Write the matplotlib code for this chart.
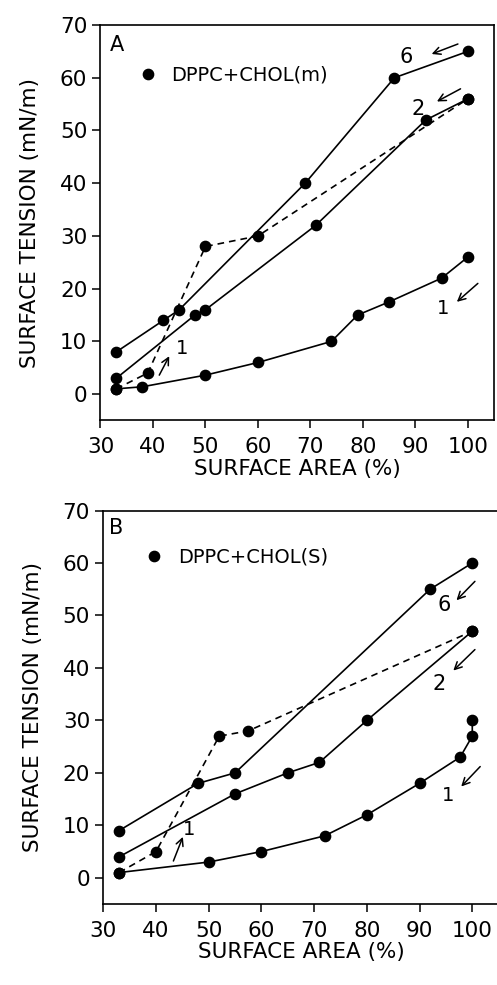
import matplotlib
matplotlib.use('Agg')
import matplotlib.pyplot as plt
from matplotlib.lines import Line2D

plt.rcParams['font.family'] = ['DejaVu Sans']

# Panel A : DPPC+CHOL(m)
a_c1_x = [100, 95, 85, 79, 74, 60, 50, 38, 33]
a_c1_y = [26, 22, 17.5, 15, 10, 6, 3.6, 1.4, 1]
a_exp_x = [33, 39, 50, 60, 100]
a_exp_y = [1, 4, 28, 30, 56]
a_c2_x = [100, 92, 71, 50, 48, 33]
a_c2_y = [56, 52, 32, 16, 15, 3]
a_c6_x = [100, 86, 69, 45, 42, 33]
a_c6_y = [65, 60, 40, 16, 14, 8]

# Panel B : DPPC+CHOL(S)
b_c1_x = [100, 100, 97.7, 90, 80, 72, 60, 50, 33]
b_c1_y = [30, 27, 23, 18, 12, 8, 5, 3, 1]
b_exp_x = [33, 40, 52, 57.5, 100]
b_exp_y = [1, 5, 27, 28, 47]
b_c2_x = [100, 80, 71, 65, 55, 33]
b_c2_y = [47, 30, 22, 20, 16, 4]
b_c6_x = [100, 92, 55, 48, 33]
b_c6_y = [60, 55, 20, 18, 9]

x_ticks = [30, 40, 50, 60, 70, 80, 90, 100]
y_ticks = [0, 10, 20, 30, 40, 50, 60, 70]

fig = plt.figure(figsize=(4.97, 9.85), dpi=100)
ax1 = fig.add_axes([0.2022, 0.5731, 0.792, 0.4015])
ax2 = fig.add_axes([0.2078, 0.0822, 0.7955, 0.3995])

fs = 15.5
mk = dict(marker='o', color='black', markersize=7.4, lw=1.2)


def draw(ax, curves, exp_x, exp_y):
    for cx, cy in curves:
        ax.plot(cx, cy, linestyle='-', **mk)
    ax.plot(exp_x, exp_y, linestyle=(0, (4, 3)), **mk)


def arrow(ax, tail, tip):
    ax.annotate('', xy=tip, xytext=tail,
                arrowprops=dict(arrowstyle='->', lw=1.1, color='black',
                                shrinkA=0, shrinkB=0, mutation_scale=13))


def style(ax):
    ax.set_xlim(30, 105)
    ax.set_ylim(-5, 70)
    ax.set_xticks(x_ticks)
    ax.set_yticks(y_ticks)
    ax.tick_params(direction='out', length=6, width=1.1, labelsize=fs)
    ax.tick_params(axis='x', pad=6)
    for s in ax.spines.values():
        s.set_linewidth(1.2)
    ax.set_xlabel('SURFACE AREA (%)', fontsize=fs, labelpad=1)
    ax.set_ylabel('SURFACE TENSION (mN/m)', fontsize=fs, labelpad=14)


draw(ax1, [(a_c1_x, a_c1_y), (a_c2_x, a_c2_y), (a_c6_x, a_c6_y)], a_exp_x, a_exp_y)
draw(ax2, [(b_c1_x, b_c1_y), (b_c2_x, b_c2_y), (b_c6_x, b_c6_y)], b_exp_x, b_exp_y)
style(ax1)
style(ax2)
ax2.spines['right'].set_visible(False)

# panel A labels
ax1.text(33.2, 66.2, 'A', fontsize=15, ha='center', va='center')
ax1.text(88.2, 64, '6', fontsize=15, ha='center', va='center')
arrow(ax1, (98.1, 66.4), (93.1, 64.5))
ax1.text(90.5, 54, '2', fontsize=15, ha='center', va='center')
arrow(ax1, (98.6, 57.9), (94.1, 55.5))
ax1.text(95.2, 16.3, '1', fontsize=14, ha='center', va='center')
arrow(ax1, (101.9, 21), (97.9, 17.5))
ax1.text(45.6, 8.7, '1', fontsize=14, ha='center', va='center')
arrow(ax1, (41.2, 3.6), (43.1, 7.2))

# panel B labels
ax2.text(32.5, 66.7, 'B', fontsize=15, ha='center', va='center')
ax2.text(94.6, 51.9, '6', fontsize=15, ha='center', va='center')
arrow(ax2, (100.5, 56.5), (97, 52.9))
ax2.text(93.8, 37, '2', fontsize=15, ha='center', va='center')
arrow(ax2, (100.5, 43.5), (96.4, 39.5))
ax2.text(95.5, 15.6, '1', fontsize=14, ha='center', va='center')
arrow(ax2, (101.5, 21.2), (97.9, 17.4))
ax2.text(46.3, 9.2, '1', fontsize=14, ha='center', va='center')
arrow(ax2, (43.3, 3.2), (45.1, 7.8))

dot = Line2D([], [], marker='o', color='black', linestyle='none', markersize=7.4)
ax1.legend([dot], ['DPPC+CHOL(m)'], loc='center left', bbox_to_anchor=(0.096, 0.873),
           frameon=False, fontsize=14, handlelength=1, handletextpad=0.7,
           borderpad=0, borderaxespad=0)
ax2.legend([dot], ['DPPC+CHOL(S)'], loc='center left', bbox_to_anchor=(0.1045, 0.881),
           frameon=False, fontsize=14, handlelength=1, handletextpad=0.7,
           borderpad=0, borderaxespad=0)

fig.savefig('out.png', dpi=100)
